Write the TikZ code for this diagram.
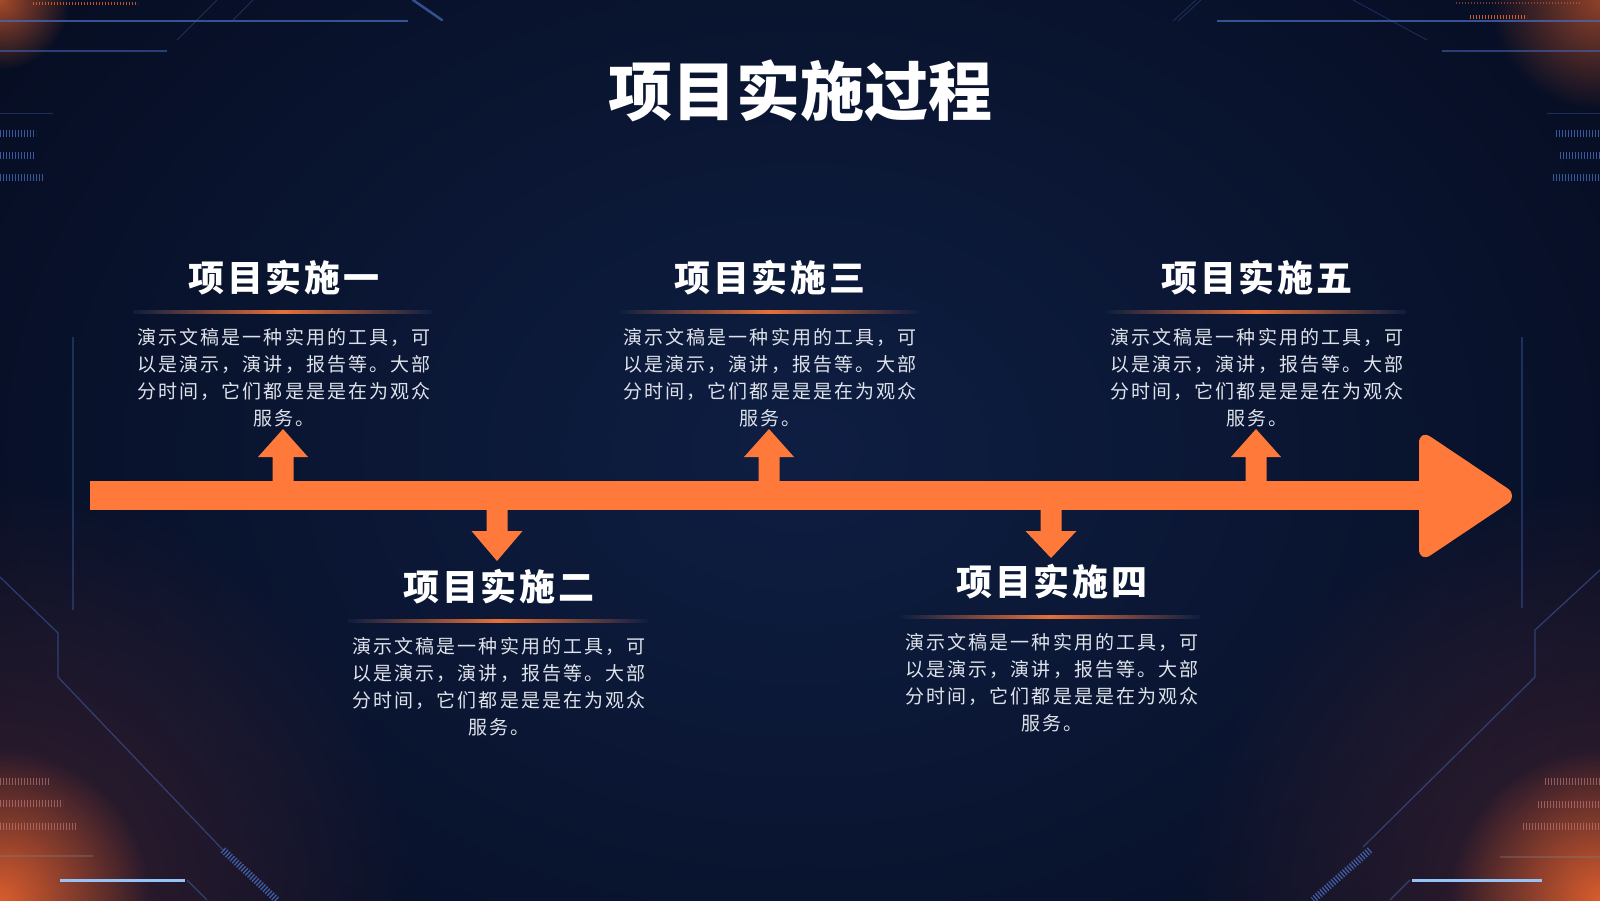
\documentclass[tikz,border=0pt]{standalone}
\usepackage{fontspec}
\newfontfamily\cjk{Noto Sans CJK SC}
\usetikzlibrary{fadings}
\definecolor{bgin}{RGB}{14,30,66}
\definecolor{bgout}{RGB}{6,13,34}
\definecolor{accent}{RGB}{255,122,58}
\definecolor{glowor}{RGB}{235,100,45}
\definecolor{glowred}{RGB}{150,60,60}
\definecolor{decoblue}{RGB}{70,105,185}
\definecolor{brightblue}{RGB}{150,195,245}
\definecolor{pinkish}{RGB}{200,130,130}
\definecolor{bodytext}{RGB}{222,226,234}
\tikzfading[name=glowfade, inner color=transparent!0, outer color=transparent!100]
\tikzset{
  maintitle/.style={text=white, font=\cjk\bfseries\fontsize{64}{70}\selectfont, inner sep=0},
  subtitle/.style={text=white, font=\cjk\bfseries\fontsize{36}{40}\selectfont\addfontfeature{LetterSpace=7}, inner sep=0},
  bodybox/.style={text=bodytext, font=\cjk\fontsize{19}{27}\selectfont\addfontfeature{LetterSpace=11}, align=center, inner sep=0},
  arrowfill/.style={fill=accent, draw=none},
  decoline/.style={draw=decoblue, line width=1.2, opacity=0.55},
  faintline/.style={draw=decoblue, line width=0.8, opacity=0.35},
  ticks/.style={dash pattern=on 1.3 off 1.7},
}
\newcommand{\sepline}[2]{%
  \shade[left color=bgin, right color=bgin, middle color=accent, opacity=0.9]
    (#1-150,#2-1.2) rectangle (#1+150,#2+1.2);}
\begin{document}
\begin{tikzpicture}[x=1pt,y=-1pt]
\useasboundingbox (0,0) rectangle (1600,900);
% background
\shade[inner color=bgin, outer color=bgout] (-200,-300) rectangle (1800,1200);
% corner glows
\fill[glowred, opacity=0.35, path fading=glowfade] (0,900) circle (420);
\fill[glowor, opacity=0.9, path fading=glowfade] (0,900) circle (150);
\fill[glowred, opacity=0.35, path fading=glowfade] (1600,900) circle (420);
\fill[glowor, opacity=0.9, path fading=glowfade] (1600,900) circle (150);
\fill[glowor, opacity=0.7, path fading=glowfade] (0,0) circle (70);
\fill[glowor, opacity=0.6, path fading=glowfade] (1600,0) circle (110);
% --- decorations top-left
\draw[decoline, line width=1.8, opacity=0.75] (0,21) -- (408,21);
\draw[decoline] (0,51) -- (167,51);
\draw[faintline] (177,40) -- (217,0);
\draw[faintline] (233,20) -- (253,0);
\draw[decoline, line width=2.5, opacity=0.7, line cap=round] (413,0) -- (442,20);
\draw[faintline] (0,113) -- (53,113);
\draw[glowor, line width=3, ticks, opacity=0.8] (33,3) -- (138,3);
\draw[decoblue, line width=7, ticks, opacity=0.8] (0,133) -- (36,133);
\draw[decoblue, line width=7, ticks, opacity=0.8] (0,155) -- (35,155);
\draw[decoblue, line width=7, ticks, opacity=0.8] (0,177) -- (43,177);
% --- decorations top-right
\draw[decoline, line width=1.8, opacity=0.75] (1217,21) -- (1600,21);
\draw[decoline] (1442,51) -- (1600,51);
\draw[faintline] (1173,21) -- (1196,0);
\draw[faintline] (1178,21) -- (1201,0);
\draw[faintline] (1353,0) -- (1427,40);
\draw[faintline] (1547,113) -- (1600,113);
\draw[glowor, line width=4, ticks, opacity=0.9] (1470,17) -- (1527,17);
\draw[glowor, line width=2, ticks, opacity=0.5] (1456,3) -- (1580,3);
\draw[decoblue, line width=7, ticks, opacity=0.8] (1556,133) -- (1600,133);
\draw[decoblue, line width=7, ticks, opacity=0.8] (1560,155) -- (1600,155);
\draw[decoblue, line width=7, ticks, opacity=0.8] (1553,177) -- (1600,177);
% --- side verticals
\draw[faintline, line width=1.2] (73,337) -- (73,610);
\draw[faintline, line width=1.2] (1522,337) -- (1522,608);
% --- decorations bottom-left
\draw[faintline, line width=1.2, opacity=0.5] (0,577) -- (58,633) -- (58,677) -- (223,850);
\draw[decoblue, line width=7, ticks, opacity=0.85] (223,850) -- (277,900);
\draw[faintline, line width=1.2, opacity=0.5] (187,880) -- (207,900);
\draw[brightblue, line width=3] (60,880) -- (185,880);
\draw[faintline, line width=1.2, draw=gray] (0,856) -- (93,856);
\draw[pinkish, line width=7, ticks, opacity=0.6] (0,781) -- (50,781);
\draw[pinkish, line width=7, ticks, opacity=0.6] (0,803) -- (63,803);
\draw[pinkish, line width=7, ticks, opacity=0.6] (0,826) -- (76,826);
% --- decorations bottom-right
\draw[faintline, line width=1.2, opacity=0.5] (1600,570) -- (1535,630) -- (1535,677) -- (1363,847);
\draw[decoblue, line width=7, ticks, opacity=0.85] (1370,850) -- (1313,900);
\draw[faintline, line width=1.2, opacity=0.5] (1410,880) -- (1390,900);
\draw[brightblue, line width=3] (1412,880) -- (1542,880);
\draw[faintline, line width=1.2, draw=gray] (1500,857) -- (1600,857);
\draw[pinkish, line width=7, ticks, opacity=0.6] (1545,781) -- (1600,781);
\draw[pinkish, line width=7, ticks, opacity=0.6] (1538,804) -- (1600,804);
\draw[pinkish, line width=7, ticks, opacity=0.6] (1523,826) -- (1600,826);

% --- title
\node[maintitle] (title) at (800,91) {项目实施过程};

% --- timeline bar and head
\fill[arrowfill] (90,481) rectangle (1445,510);
\fill[arrowfill, rounded corners=14] (1419,429) -- (1519,496) -- (1419,563) -- cycle;

% --- up arrows (1,3,5) and down arrows (2,4)
\foreach \c in {283,769,1256}{
  \fill[arrowfill] (\c-10.5,485) -- (\c-10.5,457) -- (\c-25,457) -- (\c,429)
    -- (\c+25,457) -- (\c+10.5,457) -- (\c+10.5,485) -- cycle;
}
\foreach \c/\t in {497/561,1051/558}{
  \fill[arrowfill] (\c-10.5,506) -- (\c-10.5,531) -- (\c-25.5,531) -- (\c,\t)
    -- (\c+25.5,531) -- (\c+10.5,531) -- (\c+10.5,506) -- cycle;
}

% --- blocks
\node[subtitle] (s1) at (284,277.5) {项目实施一};
\node[subtitle] (s2) at (499,586.5) {项目实施二};
\node[subtitle] (s3) at (770,277.5) {项目实施三};
\node[subtitle] (s4) at (1052,582) {项目实施四};
\node[subtitle] (s5) at (1257,277.5) {项目实施五};

\sepline{283}{312}
\sepline{498}{621}
\sepline{769}{312}
\sepline{1050}{617}
\sepline{1256}{312}

\node[bodybox] (b1) at (284,377.5) {演示文稿是一种实用的工具，可\\以是演示，演讲，报告等。大部\\分时间，它们都是是是在为观众\\服务。};
\node[bodybox] (b2) at (499,686.5) {演示文稿是一种实用的工具，可\\以是演示，演讲，报告等。大部\\分时间，它们都是是是在为观众\\服务。};
\node[bodybox] (b3) at (770,377.5) {演示文稿是一种实用的工具，可\\以是演示，演讲，报告等。大部\\分时间，它们都是是是在为观众\\服务。};
\node[bodybox] (b4) at (1052,682.5) {演示文稿是一种实用的工具，可\\以是演示，演讲，报告等。大部\\分时间，它们都是是是在为观众\\服务。};
\node[bodybox] (b5) at (1257,377.5) {演示文稿是一种实用的工具，可\\以是演示，演讲，报告等。大部\\分时间，它们都是是是在为观众\\服务。};
\end{tikzpicture}
\end{document}
